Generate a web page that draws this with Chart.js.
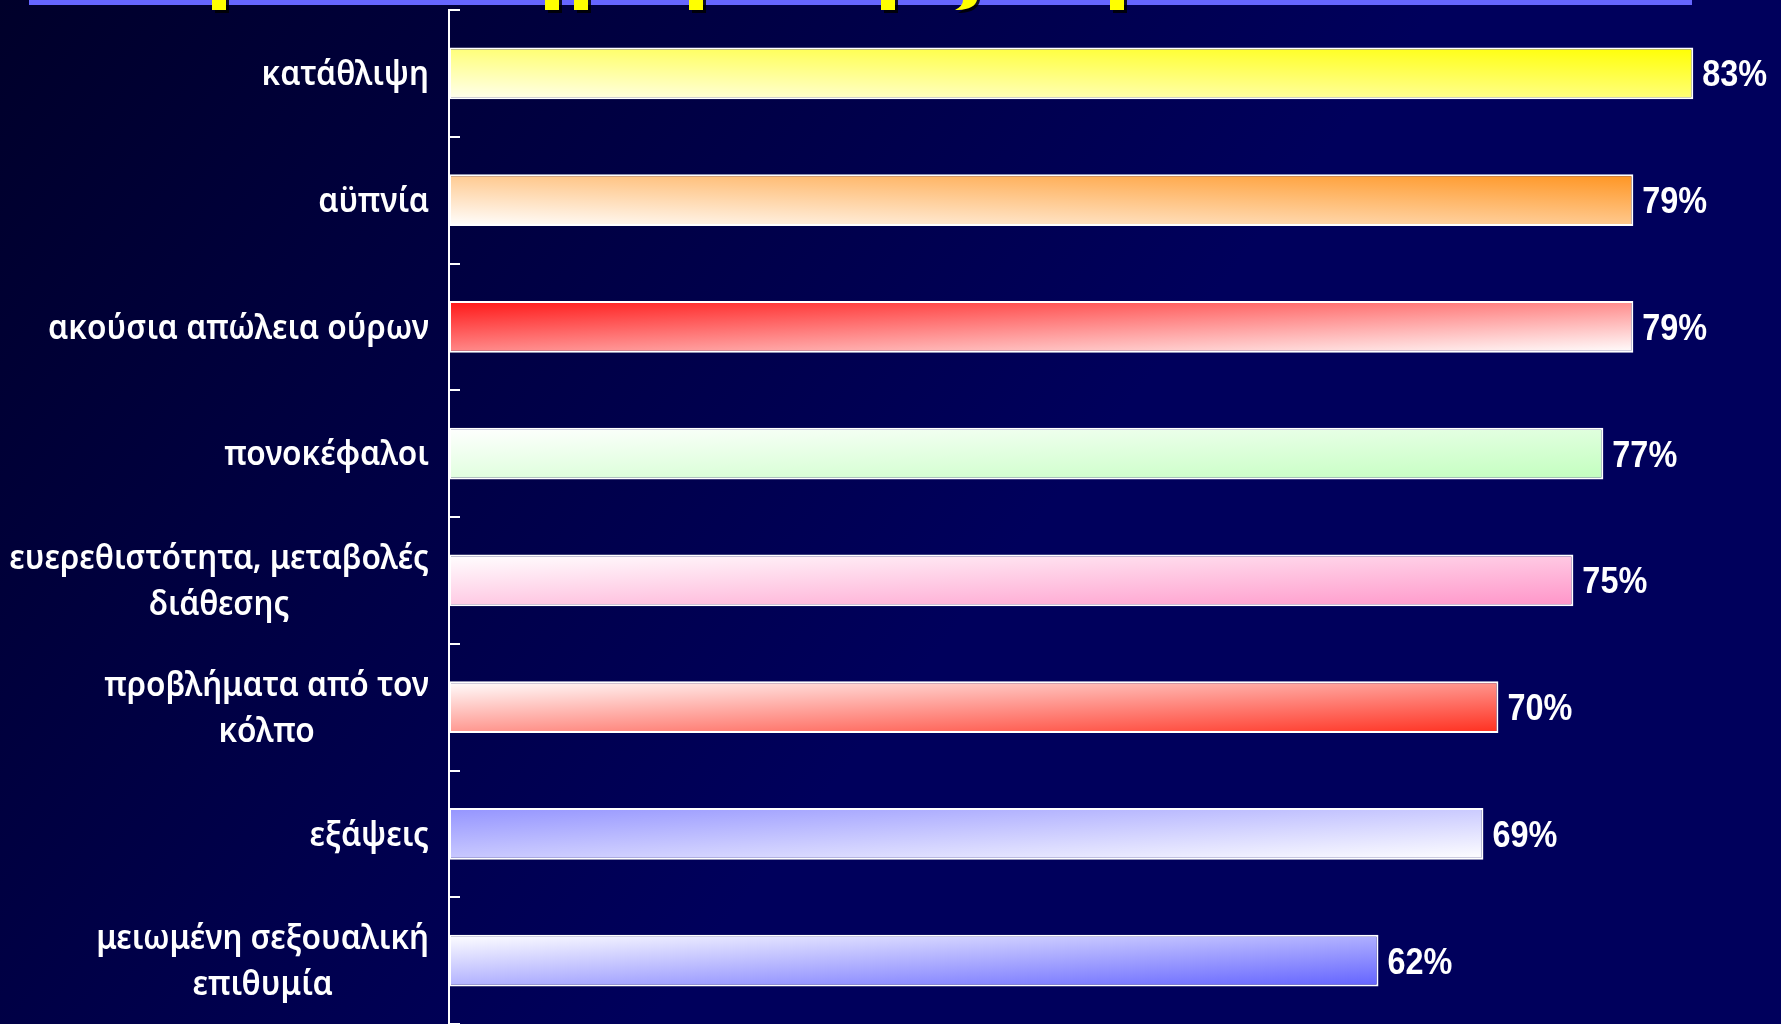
<!DOCTYPE html>
<html>
<head>
<meta charset="utf-8">
<title>Συχνότητα συμπτωμάτων</title>
<script src="https://cdn.jsdelivr.net/npm/chart.js@4.4.1/dist/chart.umd.min.js"></script>
<style>
  html, body { margin: 0; padding: 0; background: #000040; overflow: hidden; }
  canvas { display: block; }
</style>
</head>
<body>
<canvas id="chart" width="1781" height="1024"></canvas>
<script>
// Symptom categories (each entry is the list of lines of its label)
const categories = [
  ['κατάθλιψη'],
  ['αϋπνία'],
  ['ακούσια απώλεια ούρων'],
  ['πονοκέφαλοι'],
  ['ευερεθιστότητα, μεταβολές', 'διάθεσης'],
  ['προβλήματα από τον', 'κόλπο'],
  ['εξάψεις'],
  ['μειωμένη σεξουαλική', 'επιθυμία']
];

// Share of women reporting each symptom (%)
const values = [83, 79, 79, 77, 75, 70, 69, 62];

// Two-colour corner gradients of each bar
const gradientStart = ['#fffff0', '#ffffff', '#ff1616', '#ffffff', '#ffffff', '#ffffff', '#9494ff', '#ffffff'];
const gradientEnd   = ['#ffff00', '#ff9420', '#ffffff', '#c2ffbe', '#ff94c8', '#ff2e1e', '#ffffff', '#6262ff'];
// true: gradient runs bottom-left -> top-right, false: top-left -> bottom-right
const gradientFromBottom = [true, true, false, false, false, false, false, false];

const BAR_PCT = 0.41;

// Corner-to-corner gradient in the bar's own proportions
function barGradient(context) {
  const chart = context.chart;
  const i = context.dataIndex;
  const xs = chart.scales.x, ys = chart.scales.y;
  if (!chart.chartArea || !xs || !ys || i === undefined) return gradientEnd[i] || '#ffffff';
  const L = xs.getPixelForValue(0);
  const R = xs.getPixelForValue(values[i]);
  const yc = ys.getPixelForValue(i);
  const band = Math.abs(ys.getPixelForValue(1) - ys.getPixelForValue(0));
  const h = band * BAR_PCT;
  const T = yc - h / 2, B = yc + h / 2;
  const w = Math.max(R - L, 1);
  const fromBottom = gradientFromBottom[i];
  const gx = 1 / (2 * w);
  const gy = (fromBottom ? -1 : 1) / (2 * h);
  const n2 = gx * gx + gy * gy;
  const x0 = L, y0 = fromBottom ? B : T;
  const g = chart.ctx.createLinearGradient(x0, y0, x0 + gx / n2, y0 + gy / n2);
  g.addColorStop(0, gradientStart[i]);
  g.addColorStop(1, gradientEnd[i]);
  return g;
}

// Slide backdrop with the heading strip
const backdrop = {
  id: 'backdrop',
  beforeDraw(chart) {
    const { ctx, width, height } = chart;
    ctx.save();
    const bg = ctx.createLinearGradient(0, 0, 900, 700);
    bg.addColorStop(0, '#00002a');
    bg.addColorStop(1, '#00005c');
    ctx.fillStyle = bg;
    ctx.fillRect(0, 0, width, height);

    ctx.fillStyle = '#6666ff';
    ctx.fillRect(29, 0, 1663, 5);

    // lower ends of the heading letters below the strip
    const stems = [212, 545, 574, 689, 881, 1110];
    const drawStems = (dx, dy, color) => {
      ctx.fillStyle = color;
      stems.forEach(x => ctx.fillRect(x + dx, 0, 14, 10 + dy));
      ctx.beginPath();
      ctx.moveTo(963 + dx, 0);
      ctx.lineTo(977 + dx, 0);
      ctx.quadraticCurveTo(975 + dx, 9 + dy, 958 + dx, 10 + dy);
      ctx.lineTo(955 + dx, 10 + dy);
      ctx.quadraticCurveTo(963 + dx, 6 + dy, 963 + dx, 0);
      ctx.fill();
    };
    drawStems(3, 3, 'rgba(0,0,0,0.85)');
    drawStems(0, 0, '#ffff00');
    ctx.restore();
  }
};

// Draw text squeezed horizontally by factor sx, anchored per textAlign
function squeezedText(ctx, text, x, y, sx) {
  ctx.save();
  ctx.translate(x, y);
  ctx.scale(sx, 1);
  ctx.fillText(text, 0, 0);
  ctx.restore();
}

// Short ticks between categories, plus category and value labels
const annotations = {
  id: 'annotations',
  afterDraw(chart) {
    const { ctx } = chart;
    const ys = chart.scales.y;
    const axisX = chart.chartArea.left;
    ctx.save();

    ctx.strokeStyle = '#ffffff';
    ctx.lineWidth = 2;
    for (let i = 0; i <= categories.length; i++) {
      const y = Math.round(ys.getPixelForValue(i - 0.5));
      ctx.beginPath();
      ctx.moveTo(axisX - 1, y);
      ctx.lineTo(axisX + 11, y);
      ctx.stroke();
    }

    // category labels: block right-aligned to the axis, lines centred within it
    const labelSx = 0.93;
    ctx.fillStyle = '#ffffff';
    ctx.font = '600 34px "Noto Sans", sans-serif';
    ctx.textBaseline = 'middle';
    ctx.textAlign = 'center';
    const lineH = 46;
    const rightEdge = axisX - 20;
    categories.forEach((lines, i) => {
      const yc = ys.getPixelForValue(i) + 2;
      const maxW = Math.max(...lines.map(t => ctx.measureText(t).width)) * labelSx;
      const cx = rightEdge - maxW / 2;
      const y0 = yc - (lines.length - 1) * lineH / 2;
      lines.forEach((t, k) => squeezedText(ctx, t, cx, y0 + k * lineH, labelSx));
    });

    // value labels at the end of each bar
    ctx.font = 'bold 36px "Liberation Sans", Arial, sans-serif';
    ctx.textAlign = 'left';
    ctx.textBaseline = 'alphabetic';
    const meta = chart.getDatasetMeta(0);
    meta.data.forEach((bar, i) => {
      squeezedText(ctx, values[i] + '%', bar.x + 9, bar.y + 13, 0.9);
    });
    ctx.restore();
  }
};

new Chart(document.getElementById('chart'), {
  type: 'bar',
  data: {
    labels: categories,
    datasets: [{
      data: values,
      backgroundColor: barGradient,
      borderColor: '#ffffff',
      borderWidth: 2,
      borderSkipped: false,
      barPercentage: BAR_PCT,
      categoryPercentage: 1
    }]
  },
  options: {
    indexAxis: 'y',
    responsive: false,
    animation: false,
    devicePixelRatio: 1,
    layout: { padding: { top: 10, bottom: 0, left: 0, right: 0 } },
    plugins: {
      legend: { display: false },
      tooltip: { enabled: false },
      title: { display: false }
    },
    scales: {
      x: {
        display: false,
        min: 0,
        max: 88.85
      },
      y: {
        offset: true,
        grid: { display: false },
        border: { display: true, color: '#ffffff', width: 2 },
        ticks: { display: false },
        afterFit(scale) { scale.width = 449; }
      }
    }
  },
  plugins: [backdrop, annotations]
});
</script>
</body>
</html>
